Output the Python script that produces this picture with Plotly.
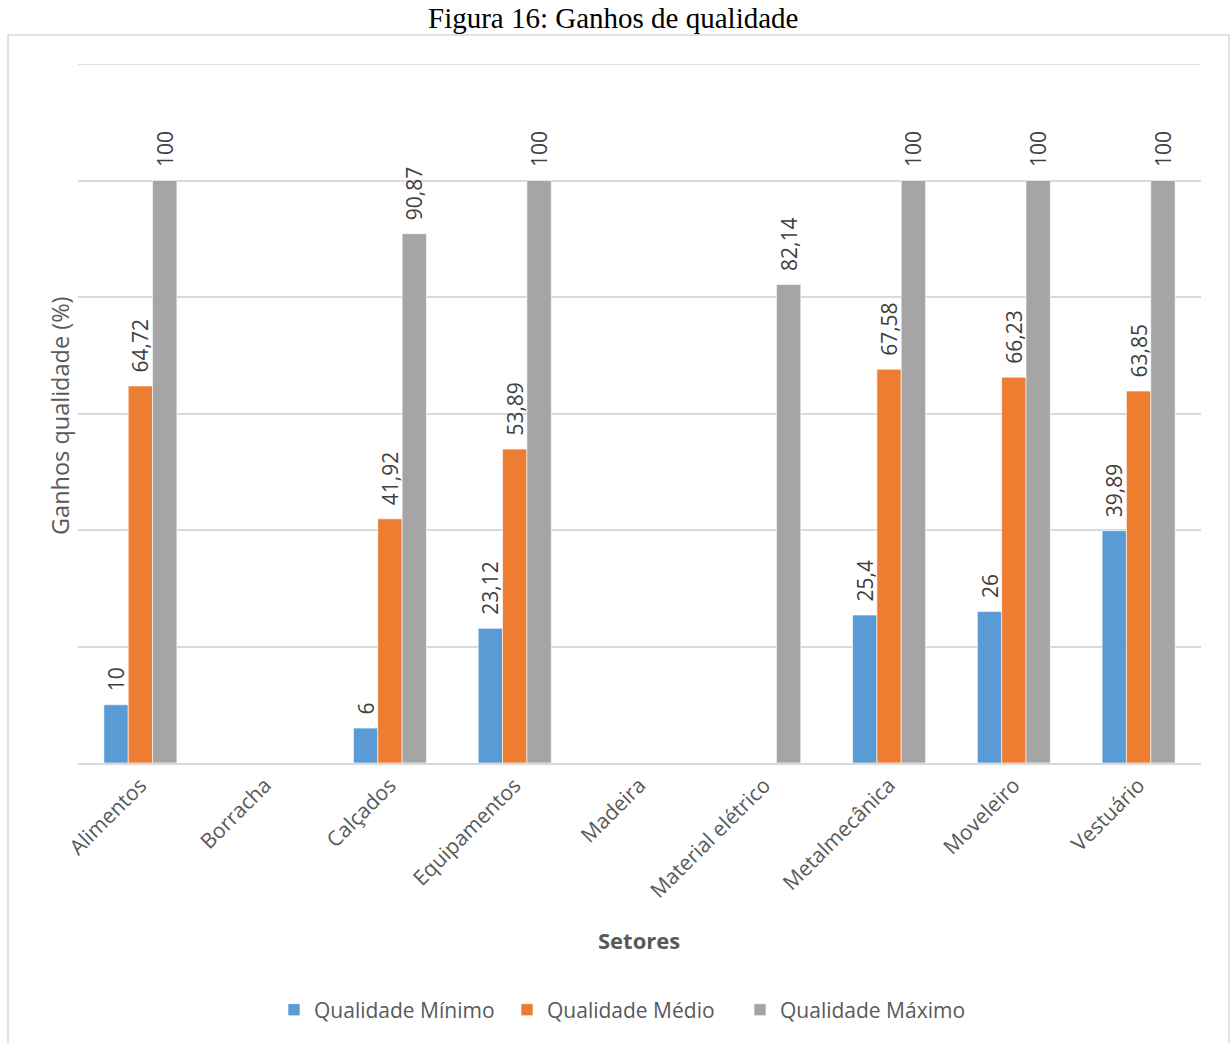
import plotly.graph_objects as go

setores = ["Alimentos", "Borracha", "Calçados", "Equipamentos", "Madeira",
           "Material elétrico", "Metalmecânica", "Moveleiro", "Vestuário"]
qual_min = [10, None, 6, 23.12, None, None, 25.4, 26, 39.89]
qual_med = [64.72, None, 41.92, 53.89, None, None, 67.58, 66.23, 63.85]
qual_max = [100, None, 90.87, 100, None, 82.14, 100, 100, 100]

series = [
    ("Qualidade Mínimo", qual_min, "#5b9bd5"),
    ("Qualidade Médio", qual_med, "#ed7d31"),
    ("Qualidade Máximo", qual_max, "#a5a5a5"),
]

def fmt(v):
    if v is None:
        return ""
    s = ("%.2f" % v).rstrip("0").rstrip(".")
    return "\u2002" + s.replace(".", ",")

W, H = 1231, 1043
L, R, T, B = 78, 30, 64, 280
pw, ph = W - L - R, H - T - B

def px_x(x):
    return (x - L) / pw

def px_y(y):
    return (H - B - y) / ph

fig = go.Figure()
for name, vals, color in series:
    fig.add_trace(go.Bar(
        x=setores, y=vals, name=name,
        marker=dict(color=color, line=dict(color="white", width=0.6)),
        text=[fmt(v) for v in vals],
        textposition="outside", textangle=-90,
        textfont=dict(family="Open Sans", size=21, color="#404040"),
        cliponaxis=False, constraintext="none",
    ))

fig.update_layout(
    width=W, height=H,
    margin=dict(l=L, r=R, t=T, b=B, autoexpand=False),
    paper_bgcolor="white", plot_bgcolor="white",
    barmode="group", bargap=0.415, bargroupgap=0,
    font=dict(family="Open Sans", color="#595959"),
    showlegend=True,
    legend=dict(orientation="h", x=0.5 - 16 / pw, xanchor="center",
                y=px_y(1010), yanchor="middle",
                entrywidth=188, entrywidthmode="pixels",
                font=dict(family="Open Sans", size=21, color="#595959")),
    xaxis=dict(showgrid=False, showline=True, linecolor="#d9d9d9", linewidth=1.5,
               tickangle=-45, ticks="",
               tickfont=dict(family="Open Sans", size=21, color="#595959")),
    yaxis=dict(range=[0, 120], dtick=20, showgrid=True, gridcolor="#d9d9d9",
               gridwidth=1.5, showticklabels=False, zeroline=False, showline=False,
               ticks=""),
    annotations=[
        dict(text="Figura 16: Ganhos de qualidade", xref="paper", yref="paper",
             x=px_x(613), y=px_y(18), xanchor="center", yanchor="middle",
             showarrow=False,
             font=dict(family="Liberation Serif", size=29, color="black")),
        dict(text="Ganhos qualidade (%)", xref="paper", yref="paper",
             x=px_x(60), y=px_y(416), xanchor="center", yanchor="middle",
             textangle=-90, showarrow=False,
             font=dict(family="Open Sans", size=23.5, color="#595959")),
        dict(text="<b>Setores</b>", xref="paper", yref="paper",
             x=px_x(639), y=px_y(940), xanchor="center", yanchor="middle",
             showarrow=False,
             font=dict(family="Open Sans", size=22, color="#595959")),
    ],
    shapes=[
        dict(type="rect", xref="paper", yref="paper",
             x0=px_x(8), x1=px_x(1229), y0=px_y(1060), y1=px_y(35),
             line=dict(color="#d9d9d9", width=1.5), layer="below"),
        dict(type="line", xref="paper", yref="y", x0=0, x1=1, y0=120, y1=120,
             line=dict(color="#d9d9d9", width=1.5), layer="below"),
    ],
)

fig.write_html("out.html")
